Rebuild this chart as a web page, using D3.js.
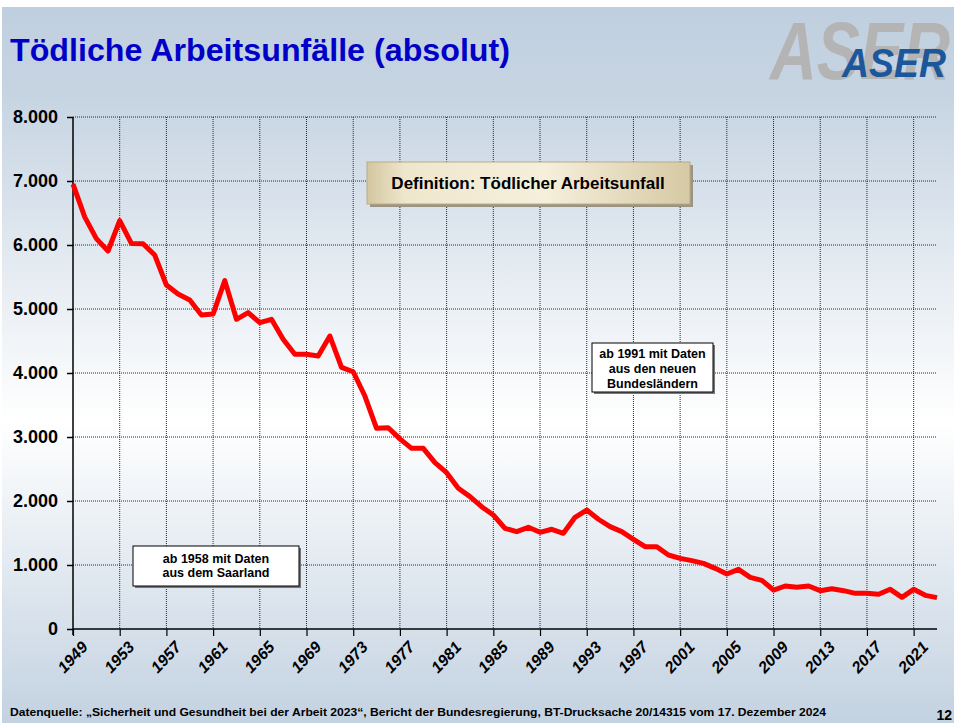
<!DOCTYPE html>
<html>
<head>
<meta charset="utf-8">
<script src="https://cdn.jsdelivr.net/npm/d3@7"></script>
<style>
  body { margin: 0; background: #ffffff; }
  svg { display: block; font-family: "Liberation Sans", Arial, sans-serif; }
</style>
</head>
<body>
<div id="chart"></div>
<script>
// Jahre und tödliche Arbeitsunfälle
const years = [
  1949, 1950, 1951, 1952, 1953, 1954, 1955, 1956, 1957, 1958,
  1959, 1960, 1961, 1962, 1963, 1964, 1965, 1966, 1967, 1968,
  1969, 1970, 1971, 1972, 1973, 1974, 1975, 1976, 1977, 1978,
  1979, 1980, 1981, 1982, 1983, 1984, 1985, 1986, 1987, 1988,
  1989, 1990, 1991, 1992, 1993, 1994, 1995, 1996, 1997, 1998,
  1999, 2000, 2001, 2002, 2003, 2004, 2005, 2006, 2007, 2008,
  2009, 2010, 2011, 2012, 2013, 2014, 2015, 2016, 2017, 2018,
  2019, 2020, 2021, 2022, 2023
];
const fatalities = [
  6950, 6440, 6100, 5906, 6380, 6025, 6020, 5843, 5375, 5234,
  5140, 4906, 4922, 5443, 4839, 4943, 4786, 4839, 4526, 4292,
  4292, 4266, 4578, 4089, 4020, 3640, 3136, 3145, 2970, 2823,
  2823, 2599, 2443, 2198, 2068, 1911, 1781, 1573, 1521, 1589,
  1511, 1558, 1495, 1745, 1859, 1715, 1599, 1521, 1401, 1286,
  1286, 1156, 1104, 1068, 1026, 948, 859, 932, 807, 760,
  609, 672, 651, 672, 599, 630, 599, 557, 557, 542,
  620, 495, 620, 526, 490
];
const xTickYears = [1949, 1953, 1957, 1961, 1965, 1969, 1973, 1977, 1981,
  1985, 1989, 1993, 1997, 2001, 2005, 2009, 2013, 2017, 2021];
const yTicks = [0, 1000, 2000, 3000, 4000, 5000, 6000, 7000, 8000];

const titleText = "Tödliche Arbeitsunfälle (absolut)";
const definitionText = "Definition: Tödlicher Arbeitsunfall";
const note1991 = ["ab 1991 mit Daten", "aus den neuen", "Bundesländern"];
const note1958 = ["ab 1958 mit Daten", "aus dem Saarland"];
const sourceText = "Datenquelle: \u201eSicherheit und Gesundheit bei der Arbeit 2023\u201c, Bericht der Bundesregierung, BT-Drucksache 20/14315 vom 17. Dezember 2024";

const width = 954, height = 723;
const plot = { left: 73, right: 937, top: 117, bottom: 629 };

const de = d3.formatLocale({ decimal: ",", thousands: ".", grouping: [3], currency: ["", " €"] });
const fmt = de.format(",d");

const svg = d3.select("#chart").append("svg")
  .attr("width", width)
  .attr("height", height);

const defs = svg.append("defs");

// Folien-Hintergrund
const bg = defs.append("linearGradient").attr("id", "bg")
  .attr("x1", 0).attr("y1", 0).attr("x2", 0).attr("y2", 1);
bg.append("stop").attr("offset", "0%").attr("stop-color", "#c0cfdf");
bg.append("stop").attr("offset", "12%").attr("stop-color", "#c6d4e2");
bg.append("stop").attr("offset", "58%").attr("stop-color", "#ffffff");
bg.append("stop").attr("offset", "100%").attr("stop-color", "#c3d2e1");

// Definition-Box (beige)
const beige = defs.append("linearGradient").attr("id", "beige")
  .attr("x1", 0).attr("y1", 0).attr("x2", 1).attr("y2", 0);
beige.append("stop").attr("offset", "0%").attr("stop-color", "#d3c6a0");
beige.append("stop").attr("offset", "12%").attr("stop-color", "#efe7cd");
beige.append("stop").attr("offset", "55%").attr("stop-color", "#f6efdb");
beige.append("stop").attr("offset", "100%").attr("stop-color", "#d6c9a4");

svg.append("rect")
  .attr("x", 2).attr("y", 7)
  .attr("width", width - 2).attr("height", height - 7)
  .attr("fill", "url(#bg)");

// Titel
svg.append("text")
  .attr("x", 10).attr("y", 61)
  .attr("textLength", 500)
  .attr("lengthAdjust", "spacingAndGlyphs")
  .style("font-size", "32px")
  .style("font-weight", "bold")
  .attr("fill", "#0000c8")
  .text(titleText);

// Logo
svg.append("text")
  .attr("x", 770).attr("y", 79)
  .attr("textLength", 180)
  .attr("lengthAdjust", "spacingAndGlyphs")
  .style("font-size", "82px")
  .style("font-weight", "bold")
  .style("font-style", "italic")
  .attr("fill", "#b4b4b4")
  .text("ASER");
svg.append("text")
  .attr("x", 842).attr("y", 77)
  .attr("textLength", 104)
  .attr("lengthAdjust", "spacingAndGlyphs")
  .style("font-size", "40px")
  .style("font-weight", "bold")
  .style("font-style", "italic")
  .attr("fill", "#1c569b")
  .text("ASER");

const x = d3.scaleLinear().domain([1949, 2023]).range([plot.left, plot.right]);
const y = d3.scaleLinear().domain([0, 8000]).range([plot.bottom, plot.top]);

// Gitternetz (gepunktet)
svg.append("g")
  .selectAll("line")
  .data(yTicks.filter((d) => d > 0))
  .join("line")
  .attr("x1", plot.left).attr("x2", plot.right)
  .attr("y1", (d) => y(d)).attr("y2", (d) => y(d))
  .attr("stroke", "#2a2a2a")
  .attr("stroke-width", 1)
  .attr("stroke-dasharray", "1,1");

svg.append("g")
  .selectAll("line")
  .data(xTickYears.slice(1))
  .join("line")
  .attr("x1", (d) => x(d)).attr("x2", (d) => x(d))
  .attr("y1", plot.top).attr("y2", plot.bottom)
  .attr("stroke", "#2a2a2a")
  .attr("stroke-width", 1)
  .attr("stroke-dasharray", "1,1");

// Y-Achse
const yAxis = svg.append("g")
  .attr("transform", `translate(${plot.left},0)`)
  .call(d3.axisLeft(y).tickValues(yTicks).tickFormat(fmt).tickSize(6).tickPadding(9));
yAxis.select(".domain").attr("stroke", "#000").attr("stroke-width", 1.5).attr("d", `M0,${plot.top}V${plot.bottom + 6}`);
yAxis.selectAll(".tick line").attr("stroke", "#000").attr("stroke-width", 1.5);
yAxis.selectAll("text")
  .attr("fill", "#000")
  .style("font-size", "18px")
  .style("font-weight", "bold")
  .style("font-family", "'Liberation Sans', Arial, sans-serif");

// X-Achse
const xAxis = svg.append("g")
  .attr("transform", `translate(0,${plot.bottom})`)
  .call(d3.axisBottom(x).tickValues(xTickYears).tickFormat(d3.format("d")).tickSize(7));
xAxis.select(".domain").attr("stroke", "#000").attr("stroke-width", 1.5).attr("d", `M${plot.left},0H${plot.right}`);
xAxis.selectAll(".tick line").attr("stroke", "#000").attr("stroke-width", 1.2);
xAxis.selectAll("text")
  .attr("y", 0).attr("dy", 0)
  .attr("text-anchor", "middle")
  .attr("transform", "translate(0,29) rotate(-47)")
  .attr("dominant-baseline", "middle")
  .attr("fill", "#000")
  .style("font-size", "16px")
  .style("font-weight", "bold")
  .style("font-style", "italic")
  .style("font-family", "'Liberation Sans', Arial, sans-serif");

// Linie
const line = d3.line()
  .x((d, i) => x(years[i]))
  .y((d) => y(d));

svg.append("path")
  .datum(fatalities)
  .attr("d", line)
  .attr("fill", "none")
  .attr("stroke", "#ff0000")
  .attr("stroke-width", 5)
  .attr("stroke-linejoin", "round")
  .attr("stroke-linecap", "butt");

// Definition-Box
const defBox = svg.append("g");
defBox.append("rect")
  .attr("x", 370).attr("y", 165).attr("width", 323).attr("height", 42)
  .attr("fill", "#9c9482");
defBox.append("rect")
  .attr("x", 367).attr("y", 162).attr("width", 323).attr("height", 42)
  .attr("fill", "url(#beige)")
  .attr("stroke", "#b8ac88")
  .attr("stroke-width", 1);
defBox.append("text")
  .attr("x", 528).attr("y", 189)
  .attr("text-anchor", "middle")
  .style("font-size", "17px")
  .style("font-weight", "bold")
  .attr("fill", "#000")
  .text(definitionText);

// Hinweis-Boxen
function noteBox(lines, bx, by, bw, bh, baseline, step) {
  const g = svg.append("g");
  g.append("rect")
    .attr("x", bx + 2).attr("y", by + 2).attr("width", bw).attr("height", bh)
    .attr("fill", "#777");
  g.append("rect")
    .attr("x", bx).attr("y", by).attr("width", bw).attr("height", bh)
    .attr("fill", "#ffffff")
    .attr("stroke", "#000")
    .attr("stroke-width", 1);
  g.selectAll("text")
    .data(lines)
    .join("text")
    .attr("x", bx + bw / 2)
    .attr("y", (d, i) => baseline + i * step)
    .attr("text-anchor", "middle")
    .style("font-size", "12.5px")
    .style("font-weight", "bold")
    .attr("fill", "#000")
    .text((d) => d);
}
noteBox(note1991, 592, 343, 121, 49, 358, 15);
noteBox(note1958, 133, 546, 166, 40, 563, 14);

// Quelle
svg.append("text")
  .attr("x", 10).attr("y", 716)
  .attr("textLength", 816)
  .attr("lengthAdjust", "spacingAndGlyphs")
  .style("font-size", "11.5px")
  .style("font-weight", "bold")
  .attr("fill", "#000")
  .text(sourceText);

svg.append("text")
  .attr("x", 952).attr("y", 720)
  .attr("text-anchor", "end")
  .style("font-size", "14px")
  .style("font-weight", "bold")
  .attr("fill", "#000")
  .text("12");
</script>
</body>
</html>
